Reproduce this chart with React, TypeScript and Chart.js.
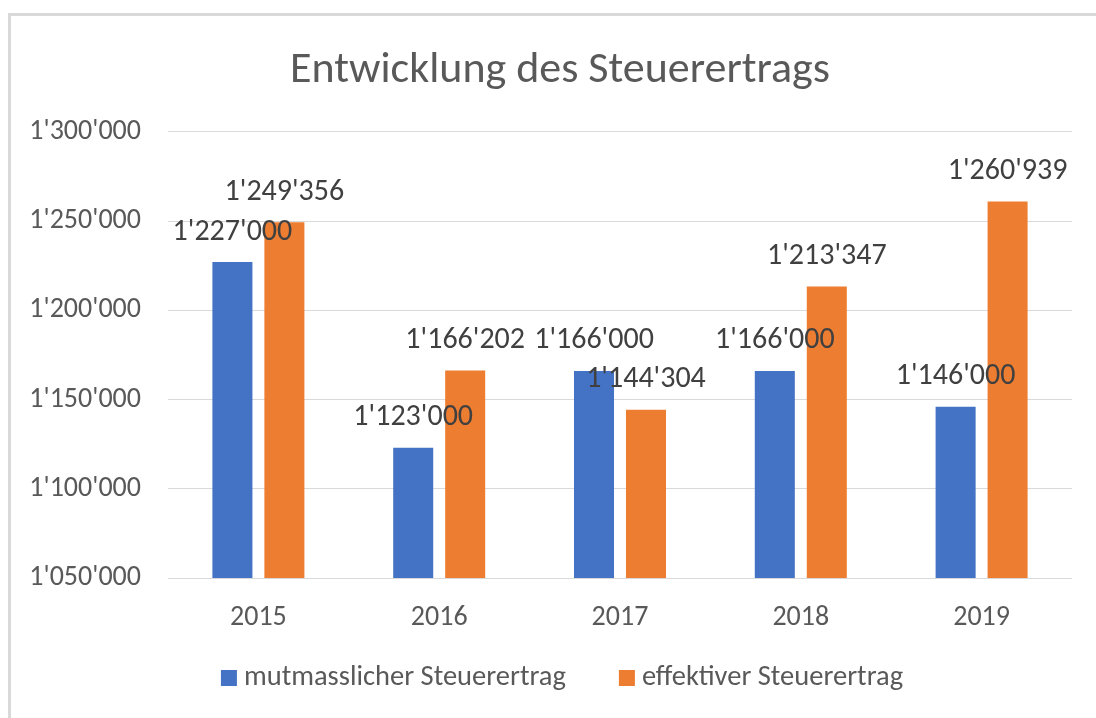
import React, { useEffect, useRef } from "react";
import { Chart, registerables } from "chart.js";

Chart.register(...registerables);

const TITLE = "Entwicklung des Steuerertrags";
const YEARS = ["2015", "2016", "2017", "2018", "2019"];
const SERIES_NAMES = ["mutmasslicher Steuerertrag", "effektiver Steuerertrag"];
const MUTMASSLICH = [1227000, 1123000, 1166000, 1166000, 1146000];
const EFFEKTIV = [1249356, 1166202, 1144304, 1213347, 1260939];
const Y_MIN = 1050000;
const Y_MAX = 1300000;
const Y_STEP = 50000;

const FONT = "Carlito, 'Open Sans', sans-serif";

function fmt(v: number): string {
  return Math.round(v).toString().replace(/\B(?=(\d{3})+(?!\d))/g, "'");
}

const dataLabels = {
  id: "dataLabels",
  afterDatasetsDraw(chart: any) {
    const ctx = chart.ctx;
    ctx.save();
    ctx.font = `30px ${FONT}`;
    ctx.fillStyle = "#404040";
    ctx.textAlign = "center";
    ctx.textBaseline = "middle";
    chart.data.datasets.forEach((ds: any, i: number) => {
      const meta = chart.getDatasetMeta(i);
      meta.data.forEach((el: any, j: number) => {
        ctx.fillText(fmt(ds.data[j]), el.x, el.y - 30);
      });
    });
    ctx.restore();
  },
};

const customLegend = {
  id: "customLegend",
  afterDraw(chart: any) {
    const ctx = chart.ctx;
    ctx.save();
    ctx.font = `28.5px ${FONT}`;
    ctx.textBaseline = "middle";
    ctx.textAlign = "left";
    const box = 16;
    const gap = 7;
    const spacing = 53;
    const items = chart.data.datasets.map((ds: any) => ({
      text: ds.label,
      color: ds.backgroundColor,
      w: ctx.measureText(ds.label).width,
    }));
    const total =
      items.reduce((s: number, it: any) => s + box + gap + it.w, 0) + spacing * (items.length - 1);
    const cx = 562;
    const cy = 678;
    let x = cx - total / 2;
    items.forEach((it: any) => {
      ctx.fillStyle = it.color;
      ctx.fillRect(x, cy - box / 2, box, box);
      x += box + gap;
      ctx.fillStyle = "#595959";
      ctx.fillText(it.text, x, cy);
      x += it.w + spacing;
    });
    ctx.restore();
  },
};

export default function App() {
  const ref = useRef<HTMLCanvasElement>(null);
  useEffect(() => {
    if (!ref.current) return;
    const chart = new Chart(ref.current, {
      type: "bar",
      data: {
        labels: YEARS,
        datasets: [
          {
            label: SERIES_NAMES[0],
            data: MUTMASSLICH,
            backgroundColor: "#4472C4",
            categoryPercentage: 0.575,
            barPercentage: 0.77,
          },
          {
            label: SERIES_NAMES[1],
            data: EFFEKTIV,
            backgroundColor: "#ED7D31",
            categoryPercentage: 0.575,
            barPercentage: 0.77,
          },
        ],
      },
      options: {
        responsive: false,
        animation: false,
        layout: { padding: { left: 0, right: 0, top: 0, bottom: 0 } },
        plugins: {
          title: {
            display: true,
            text: TITLE,
            color: "#595959",
            font: { family: FONT, size: 44, weight: "normal" },
            padding: { top: 45, bottom: 34 },
          },
          legend: { display: false },
          tooltip: { enabled: false },
        },
        scales: {
          x: {
            grid: { display: false, drawTicks: false },
            border: { display: false },
            ticks: {
              color: "#595959",
              font: { family: FONT, size: 28 },
              padding: 23,
            },
            afterFit: (s: any) => {
              s.height = 140;
            },
          },
          y: {
            min: Y_MIN,
            max: Y_MAX,
            grid: { color: "#d9d9d9", lineWidth: 1, drawTicks: false },
            border: { display: false },
            ticks: {
              stepSize: Y_STEP,
              color: "#595959",
              font: { family: FONT, size: 28 },
              padding: 27,
              callback: (v: any) => fmt(Number(v)),
            },
            afterFit: (s: any) => {
              s.width = 168;
            },
          },
          yRight: {
            position: "right",
            min: Y_MIN,
            max: Y_MAX,
            grid: { display: false, drawTicks: false },
            border: { display: false },
            ticks: { display: false },
            afterFit: (s: any) => {
              s.width = 48;
            },
          },
        },
      },
      plugins: [dataLabels, customLegend],
    });
    return () => chart.destroy();
  }, []);

  return (
    <div
      style={{
        position: "fixed",
        left: 0,
        top: 0,
        width: 1096,
        height: 718,
        background: "#fff",
        overflow: "hidden",
      }}
    >
      <canvas ref={ref} width={1120} height={718} style={{ position: "absolute", left: 0, top: 0 }} />
      <div
        style={{
          position: "absolute",
          left: 8,
          top: 13,
          width: 2000,
          height: 2000,
          borderLeft: "3px solid #d9d9d9",
          borderTop: "3px solid #d9d9d9",
          pointerEvents: "none",
        }}
      />
    </div>
  );
}
